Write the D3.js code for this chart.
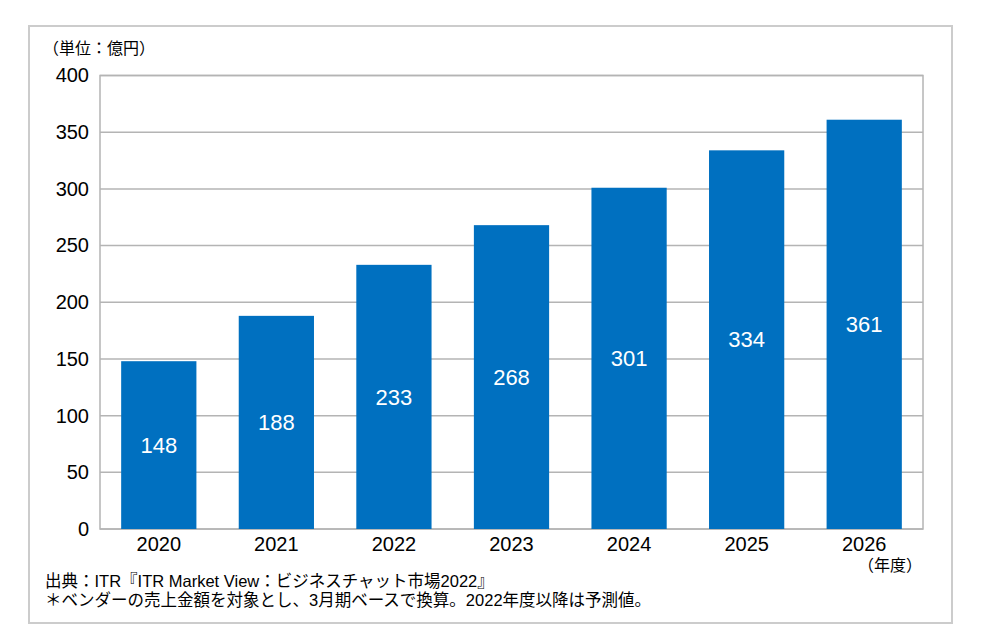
<!DOCTYPE html>
<html>
<head>
<meta charset="utf-8">
<script src="https://cdn.jsdelivr.net/npm/d3@7"></script>
<style>
  body { margin: 0; background: #fff; }
  svg text { font-family: "Liberation Sans", Arial, "Noto Sans CJK JP", sans-serif; }
</style>
</head>
<body>
<div id="chart"></div>
<script>
"use strict"

// data
const years = ["2020", "2021", "2022", "2023", "2024", "2025", "2026"];
const sales = [148, 188, 233, 268, 301, 334, 361];
const yTicks = [0, 50, 100, 150, 200, 250, 300, 350, 400];
const unitLabel = "（単位：億円）";
const xUnitLabel = "（年度）";
const notes = [
    "出典：ITR『ITR Market View：ビジネスチャット市場2022』",
    "＊ベンダーの売上金額を対象とし、3月期ベースで換算。2022年度以降は予測値。"
];

const width = 981;
const height = 639;
const plot = {left: 100, right: 923, top: 75.5, bottom: 529};
const barColor = "#0070c0";
const gridColor = "#b4b4b4";

const svg = d3.select("#chart").append("svg")
    .attr("width", width)
    .attr("height", height);

// outer frame
svg.append("rect")
    .attr("x", 29).attr("y", 26)
    .attr("width", 923).attr("height", 597)
    .attr("fill", "none")
    .attr("stroke", "#cccccc")
    .attr("stroke-width", 2);

//----------------------------SCALES----------------------------//
const x = d3.scaleBand()
    .domain(years)
    .range([plot.left, plot.right])
    .paddingInner(0.36)
    .paddingOuter(0.18);

const y = d3.scaleLinear()
    .domain([0, 400])
    .range([plot.bottom, plot.top]);

//-----------------------------GRID-----------------------------//
svg.append("g")
    .selectAll("line")
    .data(yTicks)
    .join("line")
    .attr("x1", plot.left)
    .attr("x2", plot.right)
    .attr("y1", d => y(d))
    .attr("y2", d => y(d))
    .attr("stroke", gridColor)
    .attr("stroke-width", 1.5);

// plot border (left & right)
svg.append("rect")
    .attr("x", plot.left).attr("y", plot.top)
    .attr("width", plot.right - plot.left)
    .attr("height", plot.bottom - plot.top)
    .attr("fill", "none")
    .attr("stroke", gridColor)
    .attr("stroke-width", 1.5);

//-----------------------------BARS-----------------------------//
svg.append("g")
    .selectAll("rect")
    .data(sales)
    .join("rect")
    .attr("x", (d, i) => x(years[i]))
    .attr("y", d => y(d))
    .attr("width", x.bandwidth())
    .attr("height", d => y(0) - y(d))
    .attr("fill", barColor);

svg.append("g")
    .selectAll("text")
    .data(sales)
    .join("text")
    .attr("x", (d, i) => x(years[i]) + x.bandwidth() / 2)
    .attr("y", d => (y(d) + y(0)) / 2)
    .attr("dy", "0.35em")
    .attr("text-anchor", "middle")
    .attr("fill", "#fff")
    .style("font-size", "22px")
    .text(d => d);

//-----------------------------AXES-----------------------------//
const yaxis = d3.axisLeft(y)
    .tickValues(yTicks)
    .tickSize(0)
    .tickPadding(11);

const yaxisEl = svg.append("g")
    .attr("transform", `translate(${plot.left},0)`)
    .call(yaxis);
yaxisEl.select(".domain").remove();
yaxisEl.selectAll("text")
    .attr("fill", "#000")
    .style("font-size", "20px");

const xaxis = d3.axisBottom(x)
    .tickSize(0)
    .tickPadding(8);

const xaxisEl = svg.append("g")
    .attr("transform", `translate(0,${plot.bottom})`)
    .call(xaxis);
xaxisEl.select(".domain").remove();
xaxisEl.selectAll("text")
    .attr("fill", "#000")
    .style("font-size", "20px");

//-----------------------------LABELS---------------------------//
svg.append("text")
    .attr("x", 43)
    .attr("y", 54)
    .style("font-size", "16px")
    .text(unitLabel);

svg.append("text")
    .attr("x", 922)
    .attr("y", 571)
    .attr("text-anchor", "end")
    .style("font-size", "16px")
    .text(xUnitLabel);

svg.append("g")
    .selectAll("text")
    .data(notes)
    .join("text")
    .attr("x", 45)
    .attr("y", (d, i) => 587 + i * 18.5)
    .style("font-size", "16.5px")
    .text(d => d);
</script>
</body>
</html>
